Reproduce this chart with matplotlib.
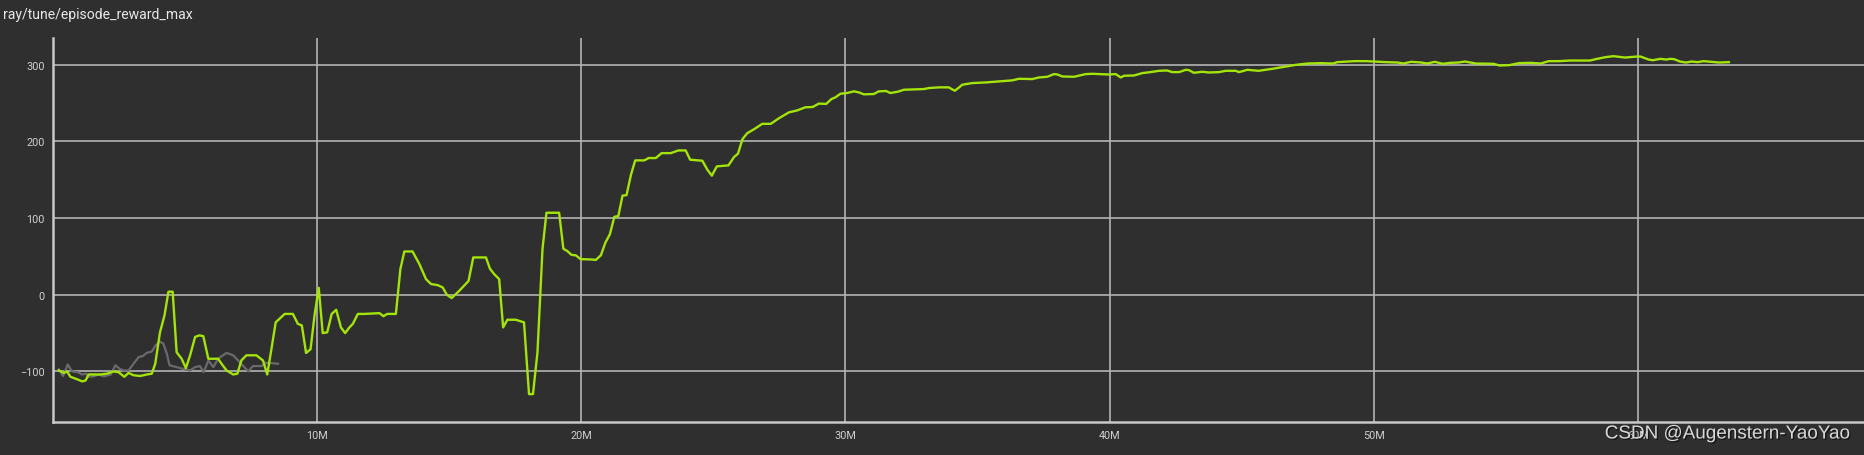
import numpy as np
import matplotlib
matplotlib.use("Agg")
import matplotlib.pyplot as plt
from matplotlib.ticker import FuncFormatter
import matplotlib.patheffects as pe

# green run: step (millions), episode_reward_max
green_x = [0.22, 0.41, 0.53, 0.66, 0.85, 0.97, 1.1, 1.23, 1.35, 1.54, 1.79, 2.04, 2.29, 2.48, 2.7, 2.86,
           3.05, 3.3, 3.55, 3.74, 3.87, 4.05, 4.22, 4.37, 4.53, 4.68, 4.87, 5.03, 5.19, 5.38, 5.54, 5.69,
           5.88, 6.25, 6.38, 6.57, 6.82, 6.98, 7.13, 7.32, 7.7, 7.95, 8.11, 8.27, 8.43, 8.77, 9.08, 9.27,
           9.42, 9.58, 9.75, 9.9, 10.06, 10.21, 10.38, 10.55, 10.72, 10.9, 11.06, 11.22, 11.35, 11.54,
           11.79, 12.36, 12.51, 12.65, 12.98, 13.15, 13.3, 13.61, 13.87, 14.12, 14.31, 14.56, 14.75,
           14.91, 15.09, 15.38, 15.73, 15.91, 16.39, 16.54, 16.7, 16.89, 17.04, 17.2, 17.52, 17.83,
           18.02, 18.17, 18.34, 18.53, 18.68, 19.16, 19.32, 19.47, 19.63, 19.79, 19.97, 20.41, 20.55,
           20.74, 20.91, 21.08, 21.25, 21.4, 21.56, 21.71, 21.88, 22.04, 22.38, 22.55, 22.82, 23.04,
           23.39, 23.67, 23.95, 24.12, 24.58, 24.77, 24.94, 25.13, 25.57, 25.78, 25.93, 26.1, 26.28,
           26.54, 26.85, 27.17, 27.48, 27.86, 28.17, 28.48, 28.76, 28.99, 29.27, 29.47, 29.62, 29.81,
           30.06, 30.32, 30.51, 30.69, 31.07, 31.26, 31.54, 31.7, 31.99, 32.21, 32.59, 32.97, 33.16,
           33.54, 33.91, 34.02, 34.14, 34.27, 34.42, 34.8, 35.3, 35.81, 36.31, 36.57, 37.07, 37.32,
           37.64, 37.89, 38.02, 38.21, 38.65, 39.09, 39.34, 39.97, 40.23, 40.42, 40.54, 40.92, 41.24,
           41.55, 41.87, 42.18, 42.37, 42.63, 42.88, 43.0, 43.19, 43.51, 43.76, 44.14, 44.39, 44.77,
           44.9, 45.21, 45.64, 46.16, 46.6, 47.05, 47.49, 48.01, 48.46, 48.61, 49.27, 49.72, 50.0,
           50.46, 50.9, 51.13, 51.28, 51.42, 51.8, 52.02, 52.31, 52.61, 52.9, 53.2, 53.45, 53.87,
           54.54, 54.76, 55.13, 55.5, 55.95, 56.32, 56.62, 56.99, 57.43, 58.18, 58.4, 58.77, 59.07,
           59.51, 59.96, 60.1, 60.4, 60.55, 60.85, 61.07, 61.22, 61.37, 61.59, 61.81, 62.03, 62.26,
           62.48, 62.77, 63.07, 63.44]
green_y = [-98.7, -102, -100, -107, -109.5, -111, -113, -112, -104, -104, -104, -103, -100, -101, -107, -102,
           -105, -106, -104, -103, -90, -49, -27, 4, 4, -75, -83.5, -95.7, -79, -55, -53, -54,
           -83.5, -83.5, -90, -98.7, -104, -103, -85.7, -79, -79, -85.7, -104, -70.6, -36, -25, -25, -38,
           -40, -76, -71, -27, 9, -50, -49, -25, -19.6, -42.6, -50, -42.6, -38, -25,
           -25, -24, -28, -25, -25, 33.5, 56.5, 56.5, 40, 20.4, 14, 12.6, 9.6,
           0, -4.3, 5.2, 18, 48.7, 48.7, 34, 27, 20.4, -42.6, -32.6, -32.6, -36,
           -129.6, -129.6, -75, 59.6, 107, 107, 60, 57, 52, 51.5, 46.5, 46, 45.5,
           51.5, 68, 78.8, 101.7, 102.6, 129.4, 129.9, 156.7, 175.3, 175.3, 178.4, 178.4, 184.8,
           184.8, 188.3, 188.3, 176.2, 174.9, 163.2, 155.4, 167.5, 168.8, 179.7, 184, 203, 210.8,
           216, 223, 223, 230.3, 238, 240.5, 244.6, 245, 249.4, 249, 255.4, 257.6, 262.3,
           263.2, 265.4, 264, 261.5, 261.9, 265.4, 265.8, 263.2, 265, 267.5, 268, 268.4, 269.7,
           270.6, 270.6, 268.4, 266.2, 269.7, 274, 276.2, 277, 278.4, 279.7, 281.8, 281.4, 283.5,
           284.4, 287.9, 287.4, 284.8, 284.4, 287.9, 288.3, 287.4, 287.9, 283.5, 285.7, 286.1, 289.2,
           290.5, 292.2, 292.6, 290.5, 290.5, 293.5, 293.1, 289.6, 290.9, 290, 290.5, 292.2, 292.2,
           290.5, 293.5, 292.2, 294.8, 297.4, 300, 301.7, 302.2, 301.7, 303.5, 304.8, 304.8, 304.3,
           303.5, 303, 301.7, 303, 303.9, 303, 301.7, 303.9, 301.3, 302.6, 303, 304.3, 301.7,
           301.3, 299.1, 299.6, 302.2, 302.6, 301.7, 304.8, 304.8, 305.6, 305.6, 307.4, 310, 311.3,
           309.5, 310.8, 310.8, 306.9, 306, 307.8, 306.9, 307.8, 307.4, 304.3, 303, 304.3, 303.5,
           304.8, 303.9, 303, 303.5]

# grey run (stopped early)
grey_x = [0.22, 0.38, 0.56, 0.72, 0.94, 1.1, 1.26, 1.35, 1.54, 1.73, 1.92, 2.19, 2.36, 2.52, 2.67, 2.86,
          3.05, 3.24, 3.4, 3.55, 3.74, 3.9, 4.05, 4.18, 4.31, 4.41, 4.68, 4.91, 5.19, 5.38, 5.56, 5.71,
          5.88, 6.07, 6.25, 6.57, 6.82, 7.07, 7.39, 7.57, 7.89, 8.08, 8.52]
grey_y = [-97.4, -106, -91, -100, -101, -104, -103, -107, -106.5, -104, -106.5, -104, -92, -96.5, -98.7, -98.7,
          -90, -81.4, -80, -75.8, -74, -65.4, -61, -64, -77, -92, -94.4, -96.5, -98.7, -94.4, -93, -100.9,
          -85.7, -94.4, -83.5, -75.8, -79, -88, -100, -93, -93, -88.7, -90]

bg = '#2f2f2f'
grid_c = '#b4b4b4'

fig = plt.figure(figsize=(18.65, 4.56), dpi=100, facecolor=bg)
ax = fig.add_axes([53/1865, 1 - 423/456, 1 - 53/1865 + 0.01, (423 - 39)/456])
ax.set_facecolor(bg)

ax.plot(grey_x, grey_y, color='#6a6a6e', lw=1.6, zorder=3)
ax.plot(green_x, green_y, color='#a3e40a', lw=1.7, zorder=4)

ax.set_xlim(0, 69.3)
ax.set_ylim(-166, 335)
ax.set_xticks([10, 20, 30, 40, 50, 60])
ax.set_yticks([-100, 0, 100, 200, 300])
ax.xaxis.set_major_formatter(FuncFormatter(lambda v, p: '%dM' % v))
ax.grid(True, color=grid_c, lw=1.2)
ax.tick_params(length=0, colors='#cfcfcf', labelsize=7.8, pad=6)
for lab in ax.get_xticklabels() + ax.get_yticklabels():
    lab.set_family('Roboto')
for s in ['top', 'right']:
    ax.spines[s].set_visible(False)
for s in ['left', 'bottom']:
    ax.spines[s].set_color('#c8c8c8')
    ax.spines[s].set_linewidth(1.8)

fig.text(3/1865, 1 - 15/456, 'ray/tune/episode_reward_max', color='#e8e8e8', fontsize=10.1,
         family='Roboto', va='center', ha='left')

fig.text(1849/1865, 1 - 435/456, 'CSDN @Augenstern-YaoYao', color='#d8d8d8', fontsize=13.6,
         family='Liberation Sans', va='center', ha='right',
         path_effects=[pe.withSimplePatchShadow(offset=(1, -1), shadow_rgbFace='#111111', alpha=0.8)])

fig.savefig('out.png', dpi=100, facecolor=bg)
